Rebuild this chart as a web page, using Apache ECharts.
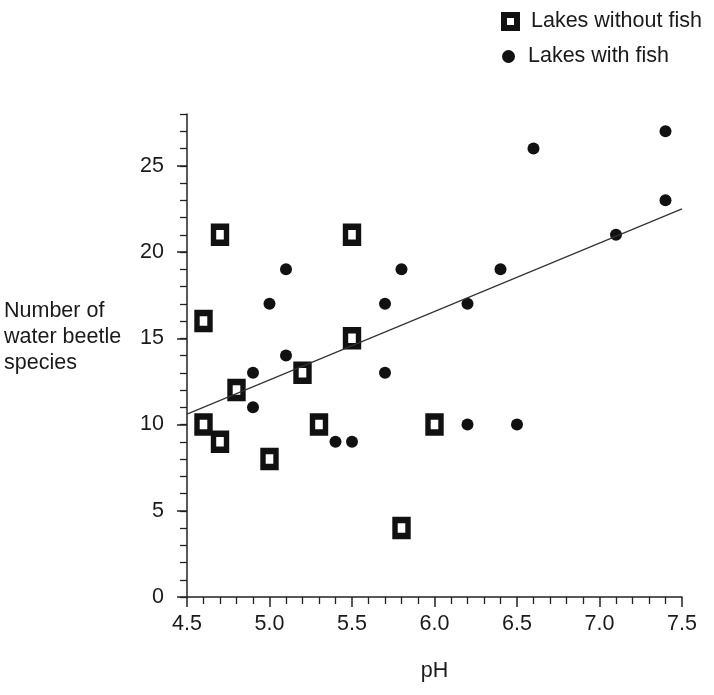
<!DOCTYPE html>
<html>
<head>
<meta charset="utf-8">
<script src="https://cdn.jsdelivr.net/npm/echarts@6/dist/echarts.min.js"></script>
<style>
  html, body { margin: 0; padding: 0; background: #fff; }
  #chart { width: 714px; height: 695px; }
</style>
</head>
<body>
<div id="chart"></div>
<script>
// Lakes without fish: [pH, species]
const noFishPH      = [4.6, 4.6, 4.7, 4.7, 4.8, 5.0, 5.2, 5.3, 5.5, 5.5, 5.8, 6.0];
const noFishSpecies = [16, 10, 21, 9, 12, 8, 13, 10, 21, 15, 4, 10];

// Lakes with fish
const fishPH      = [4.9, 4.9, 5.0, 5.1, 5.1, 5.4, 5.5, 5.7, 5.7, 5.8, 6.2, 6.2, 6.4, 6.5, 6.6, 7.1, 7.4, 7.4];
const fishSpecies = [13, 11, 17, 19, 14, 9, 9, 17, 13, 19, 10, 17, 19, 10, 26, 21, 23, 27];

// regression line end points
const fitPH      = [4.5, 7.5];
const fitSpecies = [10.6, 22.5];

const yMajorTicks = [0, 5, 10, 15, 20, 25];

const FONT = '"Liberation Sans", Arial, sans-serif';
const INK = '#1a1a1a';
const FS = 21.5;

function zip(xs, ys) { return xs.map((x, i) => [x, ys[i]]); }

const chart = echarts.init(document.getElementById('chart'));
chart.setOption({
  animation: false,
  textStyle: { fontFamily: FONT },
  grid: { left: 187, right: 32, top: 114, bottom: 98 },
  legend: [
    {
      data: ['Lakes without fish'],
      left: 501, top: 10.5, padding: 0,
      itemWidth: 13, itemHeight: 13,
      itemStyle: { color: '#fff', borderColor: '#111', borderWidth: 6 },
      textStyle: { fontSize: FS, color: INK, fontFamily: FONT, padding: [0, 0, 0, 9] }
    },
    {
      data: ['Lakes with fish'],
      left: 502, top: 45.5, padding: 0,
      itemWidth: 13, itemHeight: 13,
      textStyle: { fontSize: FS, color: INK, fontFamily: FONT, padding: [0, 0, 0, 8] }
    }
  ],
  graphic: [{
    type: 'text', left: 4, top: 298,
    style: {
      text: 'Number of\nwater beetle\nspecies',
      font: FS + 'px ' + FONT, lineHeight: 26, fill: INK
    }
  }],
  xAxis: {
    type: 'value', min: 4.5, max: 7.5, interval: 0.5,
    name: 'pH', nameLocation: 'middle', nameGap: 63,
    nameTextStyle: { fontSize: FS, color: INK, fontFamily: FONT },
    axisLine: { onZero: false, lineStyle: { color: '#222', width: 1.5 } },
    axisTick: { length: 10, lineStyle: { color: '#222', width: 1.5 } },
    minorTick: { show: true, splitNumber: 5, length: 7, lineStyle: { color: '#222', width: 1.3 } },
    axisLabel: { fontSize: FS, color: INK, margin: 16, formatter: v => v.toFixed(1) },
    splitLine: { show: false }
  },
  yAxis: [
    {
      type: 'value', min: 0, max: 28, interval: 1,
      axisLine: { show: true, onZero: false, lineStyle: { color: '#222', width: 1.5 } },
      axisTick: { length: 7, lineStyle: { color: '#222', width: 1.3 } },
      axisLabel: {
        fontSize: FS, color: INK, margin: 23,
        formatter: v => (v % 5 === 0 ? String(v) : '')
      },
      splitLine: { show: false }
    },
    {
      type: 'value', min: 0, max: 28, position: 'left',
      axisLine: { show: false },
      axisTick: { show: true, customValues: yMajorTicks, length: 10, lineStyle: { color: '#222', width: 1.5 } },
      axisLabel: { show: false },
      splitLine: { show: false }
    }
  ],
  series: [
    {
      name: 'fit', type: 'line', data: zip(fitPH, fitSpecies),
      symbol: 'none', silent: true,
      lineStyle: { color: '#333', width: 1.2 }
    },
    {
      name: 'Lakes without fish', type: 'scatter', data: zip(noFishPH, noFishSpecies),
      symbol: 'rect', symbolSize: [13, 16],
      itemStyle: { color: '#fff', borderColor: '#111', borderWidth: 6, opacity: 1 }
    },
    {
      name: 'Lakes with fish', type: 'scatter', data: zip(fishPH, fishSpecies),
      symbol: 'circle', symbolSize: 12,
      itemStyle: { color: '#111', opacity: 1 }
    }
  ]
});
window.addEventListener('resize', function () { chart.resize(); });
</script>
</body>
</html>
